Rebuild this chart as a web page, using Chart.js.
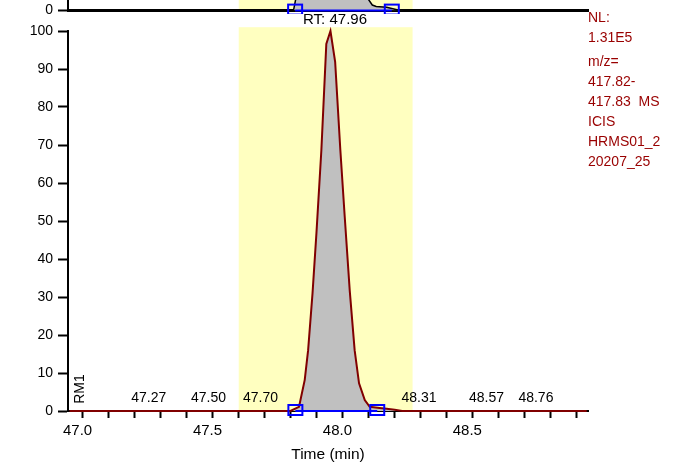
<html>
<head>
<meta http-equiv="content-type" content="text/html; charset=UTF-8">
<script src="https://cdn.jsdelivr.net/npm/chart.js"></script>
<title>RM1 chromatogram</title>
<style>
    body { margin: 0; background: #fff; }
    #wrap { position: relative; width: 674px; height: 464px; }
    #top { position: absolute; left: 0; top: 0; width: 674px; height: 14px; overflow: hidden; }
    #topchart { position: absolute; left: 0; top: -96px; }
</style>
</head>
<body>
<div id="wrap">
    <canvas id="rm1" width="674" height="464"></canvas>
    <div id="top"><canvas id="topchart" width="674" height="120"></canvas></div>
</div>

<script>
    // main trace (RM1), relative abundance vs time
    const times = [46.95, 47.80, 47.833, 47.855, 47.868, 47.885, 47.900, 47.919, 47.938, 47.954,
                   47.972, 47.992, 48.009, 48.028, 48.047, 48.064, 48.086, 48.105, 48.143, 48.170,
                   48.201, 48.230, 48.94];
    const intensity = [0, 0, 1.1, 8.2, 16, 31, 46.8, 68.7, 96.6, 100,
                       91.9, 68.7, 51, 31.8, 16, 7.3, 2.9, 1.1, 0.8, 0.6,
                       0.3, 0, 0];
    const peakLabels = [47.27, 47.50, 47.70, 48.31, 48.57, 48.76];
    const rtValue = 47.96;
    const peakBounds = [47.819, 48.134];
    const band = [47.601, 48.270, 101];
    const infoLines = ['NL:', '1.31E5', 'm/z=', '417.82-', '417.83  MS', 'ICIS', 'HRMS01_2', '20207_25'];

    // panel above, only its bottom edge is visible
    const topTimes = [46.95, 47.80, 47.812, 47.84, 47.96, 48.10, 48.115, 48.13, 48.17, 48.21, 48.26, 48.94];
    const topIntensity = [0, 0, 0.5, 40, 100, 12, 6, 4.5, 3.5, 1, 0, 0];
    const topLabels = [47.14, 47.61, 48.66];
    const topBounds = [47.818, 48.19];

    // range is deliberately not a whole number of steps, so ticks land on 47.0, 47.1, ...
    const xMin = 46.944, xMax = 48.945;
    const font = "'Liberation Sans', Arial, sans-serif";
    Chart.defaults.font.family = font;
    Chart.defaults.font.size = 14;
    Chart.defaults.color = '#000';

    function pts(xs, ys) {
        return xs.map((t, i) => ({x: t, y: ys[i]}));
    }

    function drawBand(chart) {
        const {ctx, scales: {x, y}} = chart;
        const x0 = x.getPixelForValue(band[0]), x1 = x.getPixelForValue(band[1]);
        const yt = y.getPixelForValue(band[2]), yb = y.getPixelForValue(0);
        ctx.save();
        ctx.fillStyle = '#ffffc0';
        ctx.fillRect(x0, yt, x1 - x0, yb - yt);
        ctx.restore();
    }

    function drawBounds(chart, bounds) {
        const {ctx, scales: {x, y}} = chart;
        const y0 = y.getPixelForValue(0);
        const a = x.getPixelForValue(bounds[0]), b = x.getPixelForValue(bounds[1]);
        ctx.save();
        ctx.strokeStyle = '#0000ff';
        ctx.lineWidth = 2;
        ctx.beginPath();
        ctx.moveTo(a, y0);
        ctx.lineTo(b, y0);
        ctx.stroke();
        ctx.strokeRect(a - 7, y0 - 6, 14, 10);
        ctx.strokeRect(b - 7, y0 - 6, 14, 10);
        ctx.restore();
    }

    // only every 0.5 min gets a label, the other ticks stay bare
    function timeLabel(v) {
        const r = Math.round(Number(v) * 10);
        return r % 5 === 0 ? (r / 10).toFixed(1) : '';
    }

    const decor = {
        id: 'decor',
        beforeDraw(chart) { drawBand(chart); },
        afterDatasetsDraw(chart) {
            const {ctx, chartArea, scales: {x, y}} = chart;
            const y0 = y.getPixelForValue(0);
            drawBounds(chart, peakBounds);
            ctx.save();
            ctx.fillStyle = '#000';
            ctx.font = '14px ' + font;
            ctx.textAlign = 'center';
            ctx.textBaseline = 'middle';
            peakLabels.forEach(v => ctx.fillText(v.toFixed(2), x.getPixelForValue(v) - 4, y0 - 13));
            ctx.font = '15px ' + font;
            ctx.fillText('RT: ' + rtValue.toFixed(2), x.getPixelForValue(rtValue) + 3, chartArea.top - 11);
            // trace name, rotated
            ctx.save();
            ctx.translate(chartArea.left + 12, y0 - 22);
            ctx.rotate(-Math.PI / 2);
            ctx.font = '14px ' + font;
            ctx.fillText('RM1', 0, 0);
            ctx.restore();
            // info block on the right
            ctx.fillStyle = '#990000';
            ctx.font = '14px ' + font;
            ctx.textAlign = 'left';
            infoLines.forEach((s, i) => {
                ctx.fillText(s, chartArea.right, 18 + i * 20 + (i >= 2 ? 4 : 0));
            });
            ctx.restore();
        }
    };

    new Chart(document.getElementById('rm1'), {
        type: 'line',
        data: {
            datasets: [{
                data: pts(times, intensity),
                borderColor: '#800000',
                backgroundColor: '#c0c0c0',
                borderWidth: 2,
                fill: 'origin',
                pointRadius: 0,
                tension: 0,
                clip: 4
            }]
        },
        options: {
            responsive: false,
            animation: false,
            layout: {padding: {top: 31, right: 86, left: 0, bottom: 0}},
            plugins: {legend: {display: false}, tooltip: {enabled: false}},
            scales: {
                x: {
                    type: 'linear',
                    min: xMin,
                    max: xMax,
                    afterFit: s => { s.height = 53; },
                    border: {color: '#000', width: 2},
                    grid: {drawOnChartArea: false, tickLength: 7, tickColor: '#000', tickWidth: 2},
                    ticks: {
                        stepSize: 0.1,
                        includeBounds: false,
                        autoSkip: false,
                        maxRotation: 0,
                        padding: 4,
                        labelOffset: -5,
                        color: '#000',
                        font: {size: 15},
                        callback: timeLabel
                    },
                    title: {display: true, text: 'Time (min)', font: {size: 15.5}, padding: {top: 0, bottom: 0}}
                },
                y: {
                    min: 0,
                    max: 100,
                    afterFit: s => { s.width = 68; },
                    border: {color: '#000', width: 2},
                    grid: {drawOnChartArea: false, tickLength: 10, tickColor: '#000', tickWidth: 2},
                    ticks: {stepSize: 10, padding: 5}
                }
            }
        },
        plugins: [decor]
    });

    const topDecor = {
        id: 'topDecor',
        beforeDraw(chart) { drawBand(chart); },
        afterDatasetsDraw(chart) {
            const {ctx, scales: {x, y}} = chart;
            drawBounds(chart, topBounds);
            ctx.save();
            ctx.fillStyle = '#000';
            ctx.font = '14px ' + font;
            ctx.textAlign = 'center';
            ctx.textBaseline = 'bottom';
            topLabels.forEach(v => ctx.fillText(v.toFixed(2), x.getPixelForValue(v), y.getPixelForValue(0) - 7));
            ctx.restore();
        }
    };

    new Chart(document.getElementById('topchart'), {
        type: 'line',
        data: {
            datasets: [{
                data: pts(topTimes, topIntensity),
                borderColor: '#000',
                backgroundColor: '#c0c0c0',
                borderWidth: 1.5,
                fill: 'origin',
                pointRadius: 0,
                tension: 0,
                clip: 4
            }]
        },
        options: {
            responsive: false,
            animation: false,
            layout: {padding: {top: 10, right: 86, left: 0, bottom: 0}},
            plugins: {legend: {display: false}, tooltip: {enabled: false}},
            scales: {
                x: {
                    type: 'linear',
                    min: xMin,
                    max: xMax,
                    afterFit: s => { s.height = 10; },
                    border: {color: '#000', width: 3},
                    grid: {display: false},
                    ticks: {display: false}
                },
                y: {
                    min: 0,
                    max: 100,
                    afterFit: s => { s.width = 68; },
                    afterBuildTicks: s => { s.ticks = [{value: 0}]; },
                    border: {color: '#000', width: 2},
                    grid: {drawOnChartArea: false, tickLength: 10, tickColor: '#000', tickWidth: 2},
                    ticks: {padding: 5}
                }
            }
        },
        plugins: [topDecor]
    });
</script>
</body>
</html>
